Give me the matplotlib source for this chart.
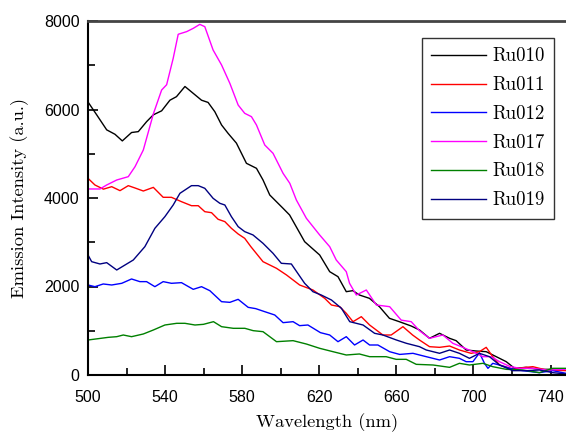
import numpy as np
import matplotlib
matplotlib.use("Agg")
import matplotlib.pyplot as plt

# ---- data ----
wl_ru010 = [500, 504.5, 509.7, 514, 517.8, 522.6, 526.1, 530.4, 533.9, 538.2, 542.5, 545.9,
            550.3, 554.6, 558.9, 562.3, 565.8, 569.3, 572.7, 577, 582.2, 587.4, 590.8, 594.3,
            597, 601.2, 604.6, 612.4, 620.2, 625.4, 629.7, 634, 637.4, 640.8, 646, 651.2,
            656.4, 661.5, 667.7, 672, 677.2, 682.4, 687.6, 691, 696.2, 701.4, 706.6, 711.8,
            717, 721.3, 727.3, 734.2, 741.1, 748]
ru010 = [6170, 5880, 5540, 5440, 5290, 5480, 5500, 5725, 5880, 5970, 6210, 6290,
         6520, 6365, 6210, 6160, 5950, 5650, 5460, 5240, 4784, 4671, 4407, 4068,
         3950, 3767, 3616, 3013, 2712, 2335, 2222, 1883, 1906, 1808, 1733, 1544,
         1281, 1205, 1107, 1017, 829, 942, 829, 776, 565, 542, 527, 414,
         301, 151, 173, 128, 128, 128]

wl_ru011 = [500, 503.6, 508, 512.3, 516.6, 520.9, 524.4, 528.7, 533.9, 539, 543.3, 548.5,
            553.7, 557.2, 560.6, 564.1, 567.5, 571, 574.4, 577.9, 581.3, 584.5, 590.8, 597.8,
            603, 609.8, 616.7, 622.8, 626.3, 630.6, 634, 637.5, 641.8, 646.1, 653, 657.3,
            663.4, 668.4, 672, 677.2, 682.4, 687.6, 692.7, 698.8, 703.1, 706.6, 710, 713.5,
            720.4, 727.3, 730.8, 737.7, 748]
ru011 = [4445, 4294, 4200, 4256, 4166, 4279, 4226, 4158, 4240, 4016, 4015, 3917,
         3826, 3826, 3691, 3668, 3519, 3466, 3315, 3187, 3089, 2900, 2561, 2411,
         2260, 2034, 1921, 1733, 1582, 1544, 1394, 1205, 1318, 1130, 904, 904,
         1092, 904, 790, 640, 625, 655, 565, 490, 527, 625, 414, 226,
         136, 173, 188, 113, 98]

wl_ru012 = [500, 503.6, 507.9, 512.3, 517.5, 522.6, 526.9, 530.4, 534.7, 539, 543.3, 548.5,
            554.6, 558.9, 563.2, 569.3, 573.6, 577.9, 583.1, 587, 591.7, 596.9, 601.2, 606.4,
            609.8, 614.1, 620.6, 625.4, 629.7, 634, 638.3, 642.7, 646.1, 650.4, 656.5, 661.7,
            668.6, 675.5, 682.4, 687.6, 692.7, 696.2, 699.7, 703.1, 705.7, 707.5, 710, 713.5,
            718.7, 725.6, 734.2, 741.1, 748]
ru012 = [2034, 1996, 2057, 2034, 2072, 2170, 2110, 2110, 1996, 2110, 2072, 2087,
         1936, 1996, 1906, 1657, 1642, 1710, 1529, 1500, 1431, 1356, 1183, 1205,
         1115, 1130, 957, 904, 753, 866, 678, 791, 678, 678, 527, 465,
         490, 414, 339, 414, 377, 301, 301, 500, 264, 151, 264, 226,
         151, 98, 53, 98, 38]

wl_ru017 = [500, 506.2, 509.7, 514.9, 520.9, 524.4, 528.7, 533.9, 538.2, 540.8, 544.2, 546.8,
            551.2, 554.6, 558, 560.6, 564.9, 569.3, 573.6, 577.9, 581.3, 584.8, 587.4, 591.7,
            596, 601.2, 604.7, 608.1, 613.3, 620.2, 625.4, 628.8, 634, 635.7, 639.2, 644.4,
            649.6, 656.5, 662.5, 667.7, 672, 677.2, 684.1, 689.3, 694.5, 699.7, 704.9, 709.2,
            713.5, 718.7, 723.9, 730.8, 737.7, 748]
ru017 = [4204, 4204, 4294, 4407, 4482, 4708, 5085, 5900, 6440, 6560, 7156, 7700,
         7760, 7834, 7924, 7872, 7345, 7006, 6591, 6101, 5914, 5838, 5650, 5198,
         5010, 4558, 4332, 3955, 3541, 3164, 2900, 2599, 2335, 2072, 1808, 1921,
         1582, 1544, 1240, 1205, 1000, 829, 904, 716, 625, 527, 414, 414,
         301, 196, 151, 151, 113, 128]

wl_ru018 = [500, 505.3, 510.5, 514.9, 518.3, 522.6, 528.7, 533.9, 539.9, 546, 550.3, 555.5,
            559.9, 565.1, 569.3, 575.4, 581.4, 585.7, 590.8, 597.8, 606.4, 613.3, 620.2, 627.1,
            634, 640.8, 646.1, 654.7, 659.9, 665.1, 670.3, 679, 687.6, 692.7, 697.9, 704.9,
            710, 717, 725.6, 734.2, 741.1, 748]
ru018 = [791, 821, 851, 866, 904, 866, 927, 1017, 1130, 1168, 1168, 1130,
         1145, 1205, 1092, 1055, 1055, 1002, 979, 753, 776, 700, 603, 527,
         452, 475, 414, 414, 354, 354, 241, 226, 173, 264, 226, 264,
         188, 128, 113, 53, 151, 151]

wl_ru019 = [500, 501.9, 506.2, 509.7, 514.9, 519.2, 523.5, 529.5, 534.7, 539.9, 544.2, 547.7,
            550.3, 553.7, 557.2, 560.6, 564.9, 568.4, 571, 574.4, 577.9, 581.3, 585.6, 590.8,
            596, 600.3, 605.5, 612.4, 616.7, 621, 626.3, 631.5, 635.8, 642.7, 648.7, 653,
            660, 665.2, 672, 675.5, 682.4, 687.6, 692.7, 697.9, 703.1, 708.3, 713.5, 720.4,
            727.3, 734.2, 741.1, 748]
ru019 = [2712, 2561, 2509, 2539, 2373, 2486, 2599, 2900, 3315, 3579, 3842, 4106,
         4181, 4279, 4279, 4219, 3993, 3880, 3842, 3579, 3353, 3240, 3165, 2976,
         2750, 2524, 2509, 2072, 1883, 1808, 1695, 1507, 1205, 1130, 942, 904,
         791, 716, 640, 565, 490, 565, 490, 377, 490, 414, 226, 98,
         98, 113, 53, 23]

labels = ["Ru010", "Ru011", "Ru012", "Ru017", "Ru018", "Ru019"]
colors = ["black", "red", "blue", "magenta", "green", "navy"]
series = [(wl_ru010, ru010), (wl_ru011, ru011), (wl_ru012, ru012),
          (wl_ru017, ru017), (wl_ru018, ru018), (wl_ru019, ru019)]

x_ticks = [500, 540, 580, 620, 660, 700, 740]
y_ticks = [0, 2000, 4000, 6000, 8000]

# ---- plot ----
fig = plt.figure(figsize=(5.66, 4.34), dpi=100)
ax = fig.add_axes([88 / 566, 1 - 375 / 434, 1 - 88 / 566, (375 - 21) / 434])

for (wl, vals), lab, col in zip(series, labels, colors):
    ax.plot(wl, vals, color=col, lw=1.0, label=lab)

ax.set_xlim(500, 748)
ax.set_ylim(0, 8000)
ax.set_xticks(x_ticks)
ax.set_xticks(np.arange(520, 748, 40), minor=True)
ax.set_yticks(y_ticks)
ax.set_yticks([1000, 3000, 5000, 7000], minor=True)

ax.tick_params(which="both", direction="in", top=False, right=False, width=1.2)
ax.tick_params(which="major", length=7, labelsize=11.5)
ax.tick_params(axis="x", which="major", pad=11)
ax.tick_params(axis="y", which="major", pad=6)
ax.tick_params(which="minor", length=5)
for t in ax.get_xticklabels() + ax.get_yticklabels():
    t.set_fontfamily("Liberation Sans")

ax.spines["right"].set_visible(False)
ax.spines["top"].set_linewidth(2.0)
ax.spines["top"].set_color("#444444")
ax.spines["left"].set_linewidth(1.5)
ax.spines["bottom"].set_linewidth(1.5)

ax.set_xlabel("Wavelength (nm)", fontfamily="cmr10", fontsize=13.3, labelpad=6)
ax.set_ylabel("Emission Intensity (a.u.)", fontfamily="cmr10", fontsize=13.3, labelpad=11)

leg = ax.legend(loc="upper right", bbox_to_anchor=(0.975, 0.952), borderaxespad=0,
                prop={"family": "cmr10", "size": 13.5}, fancybox=False,
                edgecolor="black", handlelength=2.9, labelspacing=0.58,
                handletextpad=0.35, borderpad=0.5)
leg.get_frame().set_linewidth(1.0)

fig.savefig("out.png", dpi=100)
